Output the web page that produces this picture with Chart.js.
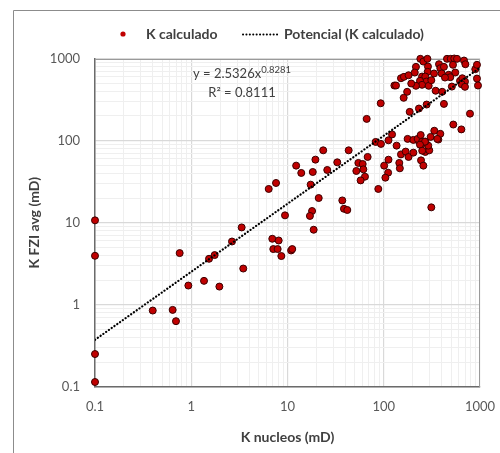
<!DOCTYPE html>
<html><head><meta charset="utf-8">
<script src="https://cdn.jsdelivr.net/npm/chart.js@4.4.1/dist/chart.umd.min.js"></script>
<style>html,body{margin:0;padding:0;background:#fff}canvas{display:block}</style>
</head><body>
<canvas id="c" width="500" height="453"></canvas>
<script>
// ---- data ----
const kNucleos = [0.1,0.1,0.1,0.1,0.398,0.641,0.694,0.758,0.933,1.357,1.53,1.75,1.96,2.65,
 3.34,3.47,6.38,7.6,6.95,8.1,7.12,7.9,8.63,9.42,10.9,11.2,12.3,13.9,18.3,19.5,23.5,25.9,17.4,21.1,18.0,17.1,18.7,
 43.2,32.9,68,54.5,60.4,61.4,51.9,63.8,57.5,87.8,37.1,38.6,41.8,82.4,93.5,112,136,101,112,111,104,145,147,151,169,181,203,244,258,270,297,290,245,270,232,312,369,
 66.5,93,129,134,151,162,181,216,210,240,258,284,288,286,250,270,277,238,250,216,193,175,161,186,232,279,293,312,346,405,422,333,375,387,422,400,454,496,540,577,524,553,473,491,433,682,705,620,655,698,645,698,893,930,930,953,787,528,640,122,177,203,225,242,250,268,307,335,387,360,238,251,510];
const kFzi = [10.7,3.96,0.252,0.115,0.853,0.869,0.633,4.27,1.72,1.96,3.64,4.04,1.67,5.91,
 8.77,2.77,25.8,30.5,6.38,6.08,4.78,4.78,3.93,12.3,4.6,4.78,49.6,40.4,41.5,58.7,76.2,43.9,29.1,20.0,13.9,12.1,8.22,
 76.2,54.4,63.3,53.5,51.9,44.7,42.7,36.4,32.8,25.8,18.7,14.8,14.3,96.4,91.2,101,86.9,49.6,58.6,40.7,35.4,53.5,46,68,73.5,63.3,71.4,57.5,49.6,72.8,76.2,86.9,88.7,97.3,98.2,15.4,103,
 184,285,469,469,575,598,625,791,675,991,918,991,799,688,603,603,524,535,478,465,496,393,332,224,246,275,465,544,405,393,280,657,852,762,791,657,991,991,1000,991,838,675,633,592,586,945,852,535,575,524,486,452,741,838,570,469,213,157,137,119,105,102,105,117,97,97,111,132,121,105,89.3,75.4,455];

// power trendline shown in the chart: y = a * x^b
const trendA = 2.5326;
const trendB = 0.8281;
const trendR2 = '0.8111';
const trendX = [0.1, 1000];

const decades = [0.1, 1, 10, 100, 1000];
const decadeLabels = ['0.1', '1', '10', '100', '1000'];
const minorSteps = [1, 2, 3, 4, 5, 6, 7, 8, 9];

const seriesLabel = 'K calculado';
const trendLabel = 'Potencial (K calculado)';
const xTitle = 'K nucleos (mD)';
const yTitle = 'K FZI avg (mD)';

// ---- helpers ----
const FONT = 'Lato, "Liberation Sans", sans-serif';
const isDecade = v => decades.some(d => Math.abs(v / d - 1) < 1e-6);
const labelFor = v => { const i = decades.findIndex(d => Math.abs(v / d - 1) < 1e-6); return i >= 0 ? decadeLabels[i] : ''; };
const logTicks = [];
decades.slice(0, -1).forEach(d => minorSteps.forEach(m => logTicks.push(+(d * m).toPrecision(6))));
logTicks.push(decades[decades.length - 1]);

const points = kNucleos.map((x, i) => ({x, y: kFzi[i]}));
const trendPts = trendX.map(x => ({x, y: trendA * Math.pow(x, trendB)}));

const decor = {
  id: 'decor',
  beforeDraw(chart) {
    const ctx = chart.ctx;
    ctx.save(); ctx.fillStyle = '#fff'; ctx.fillRect(0, 0, chart.width, chart.height); ctx.restore();
  },
  beforeDatasetsDraw(chart) {
    const ctx = chart.ctx, a = chart.chartArea;
    ctx.save();
    ctx.strokeStyle = '#9a9a9a'; ctx.lineWidth = 1;
    ctx.beginPath();
    ctx.moveTo(a.left, Math.round(a.top) + 0.5);
    ctx.lineTo(Math.round(a.right) - 0.5, Math.round(a.top) + 0.5);
    ctx.lineTo(Math.round(a.right) - 0.5, a.bottom);
    ctx.stroke();
    ctx.restore();
  },
  afterDraw(chart) {
    const ctx = chart.ctx, a = chart.chartArea;
    ctx.save();
    // outer chart frame
    ctx.strokeStyle = '#8c8c8c'; ctx.lineWidth = 1;
    ctx.beginPath(); ctx.moveTo(13.5, chart.height); ctx.lineTo(13.5, 10.5); ctx.lineTo(chart.width, 10.5); ctx.stroke();

    // trendline equation
    ctx.fillStyle = '#404040';
    ctx.textBaseline = 'alphabetic';
    ctx.textAlign = 'left';
    const cx = a.left + 147;
    const main = 'y = ' + trendA + 'x';
    const sup = String(trendB);
    ctx.font = '13px ' + FONT;
    const wMain = ctx.measureText(main).width;
    ctx.font = '9.5px ' + FONT;
    const wSup = ctx.measureText(sup).width;
    let x0 = cx - (wMain + wSup) / 2;
    ctx.font = '13px ' + FONT;
    ctx.fillText(main, x0, a.top + 19);
    ctx.font = '9.5px ' + FONT;
    ctx.fillText(sup, x0 + wMain, a.top + 14);
    ctx.font = '13px ' + FONT;
    ctx.textAlign = 'center';
    ctx.fillText('R\u00B2 = ' + trendR2, cx, a.top + 38);

    // legend
    const ds = chart.data.datasets;
    const ly = 34;
    ctx.textAlign = 'left'; ctx.textBaseline = 'middle';
    ctx.font = 'bold 14px ' + FONT;
    // marker 1
    ctx.beginPath(); ctx.arc(123, ly, 2.6, 0, Math.PI * 2);
    ctx.fillStyle = ds[0].backgroundColor; ctx.fill();
    ctx.fillStyle = '#404040';
    ctx.fillText(ds[0].label, 146, ly);
    // marker 2
    ctx.strokeStyle = ds[1].borderColor; ctx.lineWidth = 2; ctx.lineCap = 'round';
    ctx.setLineDash(ds[1].borderDash);
    ctx.beginPath(); ctx.moveTo(243, ly + 0.5); ctx.lineTo(280, ly + 0.5); ctx.stroke();
    ctx.setLineDash([]);
    ctx.fillText(ds[1].label, 284, ly);
    ctx.restore();
  }
};

const axisCommon = (titleText, titlePad) => ({
  type: 'logarithmic',
  min: decades[0],
  max: decades[decades.length - 1],
  afterBuildTicks: s => { s.ticks = logTicks.map(v => ({value: v, major: isDecade(v)})); },
  ticks: {
    autoSkip: false, maxRotation: 0, minRotation: 0,
    color: '#595959',
    font: {family: FONT, size: 13},
    callback: v => labelFor(v)
  },
  grid: {
    drawTicks: false,
    color: c => (c.tick && isDecade(c.tick.value)) ? '#d9d9d9' : '#efefef',
    lineWidth: c => (c.tick && isDecade(c.tick.value)) ? 1.2 : 1
  },
  border: {color: '#6b6b6b', width: 1.5},
  title: {display: true, text: titleText, color: '#404040', font: {family: FONT, size: 14, weight: 'bold'}, padding: titlePad}
});

const xAxis = axisCommon(xTitle, {top: 4, bottom: 7});
xAxis.ticks.padding = 12;
xAxis.afterFit = s => { s.height = 66; s.paddingLeft = 0; s.paddingRight = 0; };
const yAxis = axisCommon(yTitle, {top: 26, bottom: 0});
yAxis.ticks.padding = 15;
yAxis.afterFit = s => { s.width = 95; s.paddingTop = 0; s.paddingBottom = 0; };

new Chart(document.getElementById('c'), {
  type: 'scatter',
  data: {
    datasets: [
      {
        label: seriesLabel,
        data: points,
        backgroundColor: '#c00000',
        borderColor: '#3b0000',
        borderWidth: 1,
        pointRadius: 3.5,
        pointHoverRadius: 3.5,
        clip: false,
        order: 1
      },
      {
        type: 'line',
        label: trendLabel,
        data: trendPts,
        borderColor: '#000000',
        borderWidth: 2.2,
        borderDash: [0.1, 3.3],
        borderCapStyle: 'round',
        pointRadius: 0,
        fill: false,
        order: 0
      }
    ]
  },
  options: {
    responsive: false,
    animation: false,
    devicePixelRatio: 1,
    layout: {padding: {top: 58.5, right: 20, bottom: 0, left: 0}},
    plugins: {legend: {display: false}, tooltip: {enabled: false}},
    scales: {x: xAxis, y: yAxis}
  },
  plugins: [decor]
});
</script>
</body></html>
